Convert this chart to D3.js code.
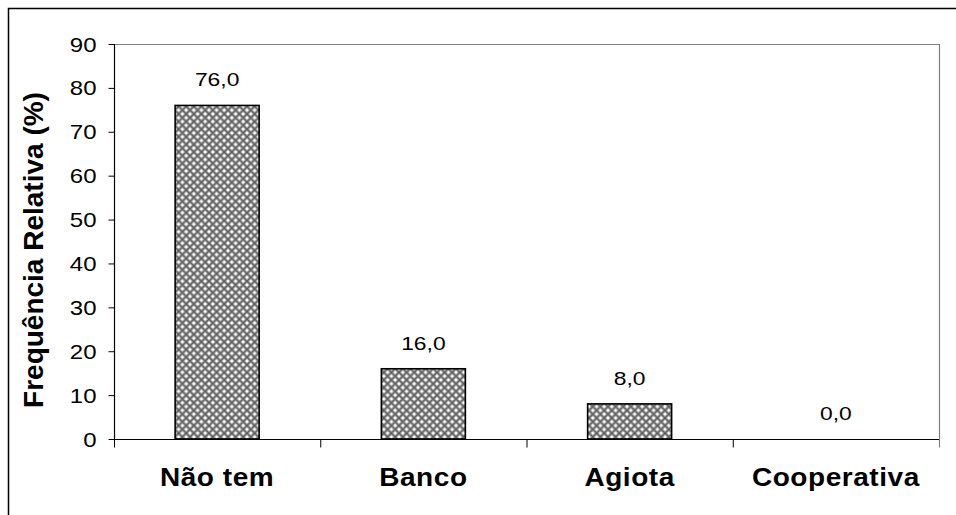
<!DOCTYPE html>
<html><head><meta charset="utf-8">
<script src="https://cdn.jsdelivr.net/npm/d3@7"></script>
<style>body{margin:0;background:#fff}svg{display:block}text{font-family:Arial,"Liberation Sans",Helvetica,sans-serif}</style>
</head><body>
<svg id="c" width="956" height="515"></svg>
<script>
const categories = ["Não tem", "Banco", "Agiota", "Cooperativa"];
const values = [76.0, 16.0, 8.0, 0.0];
const yTicks = [0, 10, 20, 30, 40, 50, 60, 70, 80, 90];
const yTitle = "Frequência Relativa (%)";

const svg = d3.select("#c");
const L = 114, R = 939, T = 44, B = 439;
const x = d3.scaleBand().domain(categories).range([L, R]).paddingInner(0).paddingOuter(0);
const y = d3.scaleLinear().domain([0, 90]).range([B, T]);
const barW = 84;

const defs = svg.append("defs");
const pat = defs.append("pattern").attr("id", "hatch").attr("patternUnits", "userSpaceOnUse")
  .attr("width", 7.6).attr("height", 7.6);
pat.append("rect").attr("width", 7.6).attr("height", 7.6).attr("fill", "#a6a6a6");
pat.append("path").attr("d", "M0,3.8 L3.8,0 L7.6,3.8 L3.8,7.6 Z").attr("fill", "none").attr("stroke", "#5a5a5a").attr("stroke-width", 1.3);
[[3.8,3.8],[0,0],[7.6,0],[0,7.6],[7.6,7.6]].forEach(([cx,cy]) =>
  pat.append("circle").attr("cx", cx).attr("cy", cy).attr("r", 1.4).attr("fill", "#ffffff"));

// outer frame (top & left visible)
svg.append("path").attr("d", "M8.5,520 L8.5,8.5 L960,8.5").attr("fill", "none").attr("stroke", "#000").attr("stroke-width", 1.5);

// plot area border top & right
svg.append("path").attr("d", `M${L},${T+0.5} L${R+0.5},${T+0.5} L${R+0.5},${B+8}`).attr("fill", "none").attr("stroke", "#808080").attr("stroke-width", 1.2);

// y axis
const yAxis = d3.axisLeft(y).tickValues(yTicks).tickSize(6).tickFormat(d3.format("d"));
const gy = svg.append("g").attr("transform", `translate(${L+0.5},0)`).call(yAxis);
gy.select(".domain").attr("stroke", "#000").attr("stroke-width", 1.2).attr("d", `M0,${T}V${B}`);
gy.selectAll(".tick line").attr("stroke", "#000");
gy.selectAll(".tick text").attr("x", 0).attr("dy", null).attr("y", 7)
  .attr("font-size", 20).attr("fill", "#000").attr("text-anchor", "end")
  .attr("transform", "translate(-18,0) scale(1.2,1)");

// bars
svg.append("g").selectAll("rect").data(values).join("rect")
  .attr("x", (d, i) => x(categories[i]) + x.bandwidth()/2 - barW/2)
  .attr("width", barW)
  .attr("y", d => y(d))
  .attr("height", d => B - y(d))
  .attr("fill", "url(#hatch)")
  .attr("stroke", d => d > 0 ? "#000" : "none")
  .attr("stroke-width", 1.6);

// x axis
const xAxis = d3.axisBottom(x).tickSize(0).tickFormat("");
const gx = svg.append("g").attr("transform", `translate(0,${B+0.5})`).call(xAxis);
gx.select(".domain").attr("stroke", "#000").attr("stroke-width", 1.2).attr("d", `M${L},0H${R}`);
gx.selectAll(".tick").remove();
const bounds = categories.map(c => x(c)).concat([R]);
gx.selectAll("line.bt").data(bounds).join("line").attr("class", "bt")
  .attr("x1", d => d + 0.5).attr("x2", d => d + 0.5).attr("y1", 0).attr("y2", 8)
  .attr("stroke", d => d === R ? "#808080" : "#000").attr("stroke-width", 1);

// value labels
svg.append("g").selectAll("text").data(values).join("text")
  .attr("transform", (d, i) => `translate(${x(categories[i]) + x.bandwidth()/2},${y(d) - 19}) scale(1.27,1)`)
  .attr("text-anchor", "middle").attr("font-size", 18).attr("fill", "#000")
  .text(d => d.toFixed(1).replace(".", ","));

// category labels
svg.append("g").selectAll("text").data(categories).join("text")
  .attr("transform", c => `translate(${x(c) + x.bandwidth()/2},486) scale(1.12,1)`)
  .attr("text-anchor", "middle").attr("font-size", 25).attr("font-weight", "bold")
  .attr("letter-spacing", 0.5).attr("fill", "#000")
  .text(c => c);

// y title
svg.append("text").attr("transform", "translate(43,250) rotate(-90)")
  .attr("text-anchor", "middle").attr("font-size", 28).attr("font-weight", "bold").attr("fill", "#000")
  .text(yTitle);
</script>
</body></html>
